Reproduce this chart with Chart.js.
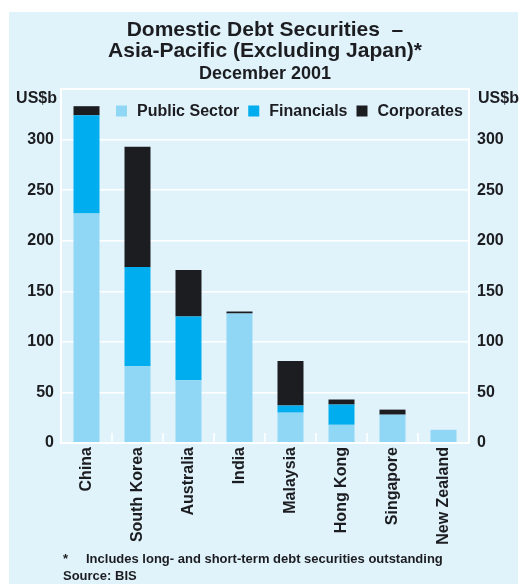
<!DOCTYPE html>
<html>
<head>
<meta charset="utf-8">
<script src="https://cdn.jsdelivr.net/npm/chart.js@4/dist/chart.umd.min.js"></script>
<style>
  body { margin: 0; background: #ffffff; }
  #wrap { position: relative; width: 520px; height: 584px; }
  #notes {
    position: absolute; left: 63px; top: 550px;
    font: bold 13px "Liberation Sans", Arial, sans-serif; color: #1c1d21; line-height: 17px;
  }
  #notes .star { display: inline-block; width: 23px; }
</style>
</head>
<body>
<div id="wrap">
  <canvas id="debtChart" width="520" height="584"></canvas>
  <div id="notes">
    <div><span class="star">*</span>Includes long- and short-term debt securities outstanding</div>
    <div>Source: BIS</div>
  </div>
</div>
<script>
// Domestic debt securities by issuer sector, US$ billions, December 2001
const countries = ['China', 'South Korea', 'Australia', 'India', 'Malaysia', 'Hong Kong', 'Singapore', 'New Zealand'];
const publicSector = [227, 76, 62, 128, 30, 18, 28, 13];
const financials = [97, 98, 63, 0, 7, 20, 0, 0];
const corporates = [9, 119, 46, 2, 44, 5, 5, 0];
const yTicks = [0, 50, 100, 150, 200, 250, 300];

const textColour = '#1c1d21';
const fontFamily = '"Liberation Sans", Arial, sans-serif';

// panel background, plot frame, category separators, unit labels and legend
const decorations = {
    id: 'decorations',
    beforeDraw(chart) {
        const ctx = chart.ctx;
        ctx.save();
        ctx.fillStyle = '#e0f2fa';
        ctx.fillRect(9, 12, 509, 572);
        ctx.restore();
    },
    afterDatasetsDraw(chart) {
        const ctx = chart.ctx;
        const area = chart.chartArea;
        ctx.save();
        ctx.strokeStyle = '#ffffff';
        ctx.lineWidth = 2;
        ctx.strokeRect(area.left, area.top, area.right - area.left, area.bottom - area.top);

        // short separators between categories along the bottom
        ctx.lineWidth = 1.5;
        const step = (area.right - area.left) / countries.length;
        for (let i = 1; i < countries.length; i++) {
            const sx = area.left + step * i;
            ctx.beginPath();
            ctx.moveTo(sx, area.bottom);
            ctx.lineTo(sx, area.bottom - 10);
            ctx.stroke();
        }

        ctx.fillStyle = textColour;
        ctx.font = 'bold 16px ' + fontFamily;
        ctx.textBaseline = 'middle';
        ctx.textAlign = 'right';
        ctx.fillText('US$b', area.left - 4, area.top + 10);
        ctx.textAlign = 'left';
        ctx.fillText('US$b', area.right + 9, area.top + 10);

        // legend
        let lx = area.left + 55;
        const ly = area.top + 22;
        chart.data.datasets.forEach(ds => {
            ctx.fillStyle = ds.backgroundColor;
            ctx.fillRect(lx, ly - 5.5, 11, 11);
            ctx.fillStyle = textColour;
            ctx.fillText(ds.label, lx + 21, ly + 1);
            lx += 21 + ctx.measureText(ds.label).width + 9;
        });
        ctx.restore();
    }
};

const ctx = document.getElementById('debtChart').getContext('2d');
new Chart(ctx, {
    type: 'bar',
    data: {
        labels: countries,
        datasets: [
            { label: 'Public Sector', data: publicSector, backgroundColor: '#8fd7f5' },
            { label: 'Financials', data: financials, backgroundColor: '#00adee' },
            { label: 'Corporates', data: corporates, backgroundColor: '#1c1d21' }
        ]
    },
    options: {
        responsive: false,
        animation: false,
        layout: {
            autoPadding: false,
            padding: { left: 10, right: 0, top: 0, bottom: 21 }
        },
        datasets: {
            bar: { categoryPercentage: 1, barPercentage: 0.51, borderWidth: 0 }
        },
        scales: {
            x: {
                stacked: true,
                grid: { display: false, drawTicks: false },
                border: { display: false },
                ticks: {
                    autoSkip: false,
                    minRotation: 90,
                    maxRotation: 90,
                    padding: 4,
                    color: textColour,
                    font: { family: fontFamily, size: 16, weight: 'bold' }
                },
                afterFit: scale => { scale.height = 120; }
            },
            y: {
                stacked: true,
                position: 'left',
                min: 0,
                max: 350,
                grid: { color: '#ffffff', lineWidth: 1.5, drawTicks: false },
                border: { display: false },
                ticks: {
                    stepSize: 50,
                    padding: 7,
                    color: textColour,
                    font: { family: fontFamily, size: 16, weight: 'bold' },
                    callback: v => yTicks.includes(v) ? v : ''
                },
                afterFit: scale => { scale.width = 51; }
            },
            y2: {
                position: 'right',
                min: 0,
                max: 350,
                grid: { display: false, drawTicks: false },
                border: { display: false },
                ticks: {
                    stepSize: 50,
                    padding: 8,
                    color: textColour,
                    font: { family: fontFamily, size: 16, weight: 'bold' },
                    callback: v => yTicks.includes(v) ? v : ''
                },
                afterFit: scale => { scale.width = 51; }
            }
        },
        plugins: {
            legend: { display: false },
            tooltip: { enabled: false },
            title: {
                display: true,
                text: ['Domestic Debt Securities  \u2013', 'Asia-Pacific (Excluding Japan)*'],
                color: textColour,
                font: { family: fontFamily, size: 21, weight: 'bold', lineHeight: 1.0 },
                padding: { top: 19.5, bottom: 0 }
            },
            subtitle: {
                display: true,
                text: 'December 2001',
                color: textColour,
                font: { family: fontFamily, size: 18, weight: 'bold', lineHeight: 1.2 },
                padding: { top: 1.7, bottom: 4.2 }
            }
        }
    },
    plugins: [decorations]
});
</script>
</body>
</html>
